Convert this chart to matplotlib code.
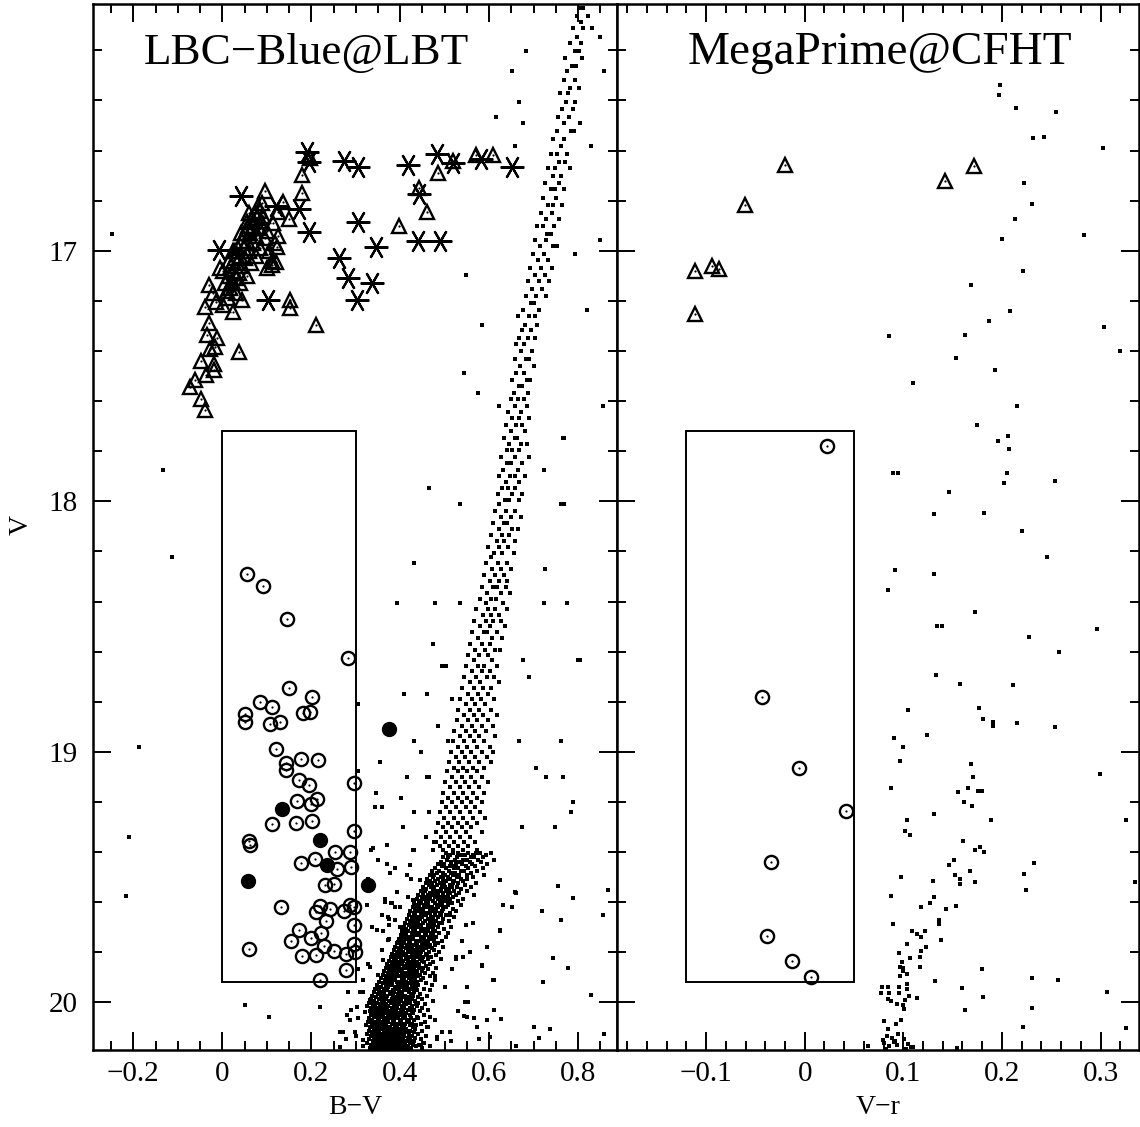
import matplotlib
matplotlib.use("Agg")
import matplotlib.pyplot as plt
from matplotlib.ticker import MultipleLocator
from matplotlib.patches import Rectangle

plt.rcParams['font.family'] = ['Liberation Serif', 'DejaVu Serif']

# ---------------- LBC-Blue@LBT (B-V, V) ----------------
# field stars, read row by row: (V, [B-V ...])
lbt_rows = [
    (16.032, [0.803, 0.811]), (16.061, [0.797, 0.822]), (16.088, [0.806]),
    (16.112, [0.789, 0.812, 0.831]), (16.146, [0.798, 0.85]), (16.171, [0.782, 0.807]),
    (16.203, [0.682, 0.794, 0.801]), (16.229, [0.771, 0.809]), (16.262, [0.786, 0.796]),
    (16.284, [0.651, 0.775, 0.859]), (16.318, [0.792, 0.768]), (16.349, [0.781, 0.801]),
    (16.372, [0.759, 0.778]), (16.408, [0.668, 0.772, 0.794]), (16.436, [0.763, 0.788]),
    (16.468, [0.755, 0.779, 0.615]), (16.49, [0.677, 0.804, 0.768]), (16.521, [0.752, 0.783, 0.791]),
    (16.553, [0.744, 0.769]), (16.581, [0.658, 0.761, 0.828]), (16.612, [0.738, 0.776, 0.752]),
    (16.644, [0.757, 0.771]), (16.668, [0.733, 0.749, 0.781]), (16.701, [0.744, 0.762]),
    (16.729, [0.726, 0.758]), (16.754, [0.739, 0.769, 0.748]), (16.788, [0.722, 0.751]),
    (16.816, [0.733, 0.744, 0.764]), (16.849, [0.716, 0.741]), (16.872, [0.728, 0.757]),
    (16.903, [0.708, 0.722, 0.745]), (16.934, [-0.247, 0.731, 0.739]), (16.958, [0.703, 0.727, 0.849]),
    (16.981, [0.715, 0.744, 0.752]), (17.012, [0.698, 0.724, 0.793]), (17.038, [0.709, 0.733]),
    (17.067, [0.692, 0.717, 0.741]), (17.096, [0.547, 0.703, 0.726]), (17.122, [0.688, 0.712, 0.735]),
    (17.153, [0.697, 0.719]), (17.181, [0.683, 0.706, 0.728]), (17.209, [0.694, 0.701]),
    (17.238, [0.677, 0.712, 0.82]), (17.262, [0.664, 0.689, 0.703]), (17.295, [0.583, 0.681, 0.708]),
    (17.318, [0.673, 0.694]), (17.347, [0.687, 0.702, 0.668]), (17.373, [0.661, 0.679]),
    (17.402, [0.672, 0.697]), (17.431, [0.657, 0.683, 0.689]), (17.458, [0.669, 0.701]),
    (17.488, [0.544, 0.661, 0.678]), (17.514, [0.652, 0.684, 0.691]), (17.541, [0.667, 0.673]),
    (17.566, [0.575, 0.656, 0.688]), (17.592, [0.648, 0.664, 0.679]),
    (17.621, [0.621, 0.659, 0.686, 0.855]), (17.643, [0.643, 0.671]), (17.668, [0.652, 0.667, 0.689]),
    (17.694, [0.637, 0.661, 0.674]), (17.719, [0.648, 0.681]),
    (17.746, [0.662, 0.633, 0.657, 0.766, 0.769]), (17.772, [0.644, 0.671, 0.684]),
    (17.797, [0.639, 0.652, 0.667]), (17.823, [0.627, 0.658, 0.689]), (17.849, [0.641, 0.648, 0.673]),
    (17.873, [-0.134, 0.632, 0.664, 0.724]), (17.898, [0.621, 0.646, 0.659, 0.681]),
    (17.922, [0.637, 0.668]), (17.947, [0.464, 0.628, 0.642, 0.657]), (17.971, [0.619, 0.651, 0.674]),
    (17.996, [0.636, 0.644, 0.667]), (18.012, [0.535, 0.623, 0.762, 0.769]),
    (18.037, [0.614, 0.638, 0.659]), (18.061, [0.627, 0.649, 0.671]), (18.085, [0.609, 0.633, 0.641]),
    (18.109, [0.621, 0.652, 0.664]), (18.134, [0.604, 0.628, 0.645]), (18.158, [0.617, 0.634, 0.659]),
    (18.183, [0.598, 0.623, 0.642]), (18.207, [0.611, 0.629, 0.655]), (18.223, [-0.112, 0.604]),
    (18.246, [0.431, 0.593, 0.619, 0.641]), (18.271, [0.607, 0.626, 0.648, 0.726]),
    (18.294, [0.589, 0.613, 0.634]), (18.318, [0.601, 0.622, 0.641]),
    (18.342, [0.583, 0.609, 0.618, 0.637]), (18.366, [0.596, 0.627, 0.646]),
    (18.39, [0.579, 0.604, 0.615]), (18.405, [0.393, 0.478, 0.535, 0.592, 0.631, 0.724, 0.775]),
    (18.428, [0.571, 0.598, 0.612, 0.641]), (18.452, [0.585, 0.604, 0.623]),
    (18.476, [0.566, 0.593, 0.609, 0.627]), (18.499, [0.579, 0.601, 0.636]),
    (18.522, [0.561, 0.588, 0.596, 0.618]), (18.546, [0.574, 0.607, 0.629]),
    (18.569, [0.473, 0.556, 0.583, 0.602]), (18.592, [0.569, 0.591, 0.613, 0.624]),
    (18.615, [0.552, 0.577, 0.598]), (18.634, [0.565, 0.606, 0.677, 0.799, 0.804]),
    (18.657, [0.494, 0.503, 0.548, 0.574, 0.589, 0.618]), (18.679, [0.561, 0.583, 0.602]),
    (18.701, [0.544, 0.571, 0.594, 0.611, 0.69]), (18.723, [0.557, 0.579, 0.621]),
    (18.745, [0.539, 0.566, 0.586, 0.603]), (18.768, [0.408, 0.46, 0.553, 0.574, 0.597]),
    (18.79, [0.517, 0.535, 0.561, 0.582, 0.611]), (18.81, [0.305, 0.548, 0.569, 0.591]),
    (18.832, [0.531, 0.557, 0.578, 0.604]), (18.853, [0.544, 0.565, 0.586, 0.617]),
    (18.874, [0.527, 0.552, 0.573, 0.597]), (18.895, [0.486, 0.539, 0.561, 0.583, 0.608]),
    (18.916, [0.522, 0.548, 0.569, 0.592]), (18.937, [0.534, 0.556, 0.577, 0.614]),
    (18.958, [0.431, 0.507, 0.518, 0.543, 0.565, 0.588, 0.666, 0.762]),
    (18.979, [-0.187, 0.529, 0.551, 0.572, 0.601]), (19.0, [0.446, 0.514, 0.538, 0.559, 0.583, 0.609]),
    (19.021, [0.525, 0.546, 0.567, 0.594]), (19.042, [0.355, 0.509, 0.533, 0.554, 0.578, 0.603]),
    (19.063, [0.52, 0.542, 0.563, 0.588, 0.706]), (19.078, [0.305, 0.505, 0.529, 0.551, 0.572]),
    (19.1, [0.415, 0.46, 0.465, 0.516, 0.538, 0.559, 0.583, 0.728, 0.766]),
    (19.121, [0.501, 0.525, 0.546, 0.568, 0.597]), (19.142, [0.512, 0.534, 0.555, 0.577]),
    (19.163, [0.346, 0.497, 0.521, 0.542, 0.564, 0.589]), (19.184, [0.402, 0.507, 0.53, 0.551, 0.573]),
    (19.202, [0.493, 0.516, 0.538, 0.559, 0.584, 0.788]),
    (19.221, [0.343, 0.36, 0.504, 0.526, 0.547, 0.568]),
    (19.242, [0.431, 0.464, 0.489, 0.512, 0.534, 0.556, 0.579, 0.784]),
    (19.263, [0.499, 0.521, 0.542, 0.563, 0.591]), (19.284, [0.485, 0.508, 0.529, 0.551, 0.572]),
    (19.3, [0.407, 0.496, 0.517, 0.538, 0.56, 0.673, 0.748]),
    (19.321, [0.481, 0.504, 0.525, 0.547, 0.583]), (19.339, [-0.21, 0.458, 0.492, 0.513, 0.534, 0.556]),
    (19.358, [0.481, 0.477, 0.5, 0.521, 0.543, 0.568]), (19.377, [0.489, 0.509, 0.53, 0.552]),
    (19.392, [0.335, 0.431, 0.474, 0.497, 0.518, 0.541, 0.573]),
    (19.404, [0.503, 0.519, 0.531, 0.552, 0.571, 0.579, 0.604]),
    (19.412, [0.511, 0.536, 0.545, 0.563, 0.592]),
    (19.421, [0.497, 0.508, 0.527, 0.558, 0.566, 0.587]),
    (19.43, [0.506, 0.523, 0.541, 0.549, 0.574, 0.611]),
    (19.439, [0.492, 0.514, 0.533, 0.556, 0.581]),
    (19.448, [0.371, 0.486, 0.499, 0.526, 0.538, 0.562, 0.596]),
    (19.456, [0.494, 0.511, 0.518, 0.547, 0.569]),
    (19.465, [0.389, 0.479, 0.503, 0.521, 0.529, 0.553, 0.585]),
    (19.474, [0.471, 0.487, 0.509, 0.536, 0.544, 0.572]),
    (19.482, [0.482, 0.496, 0.515, 0.524, 0.558]),
    (19.49, [0.466, 0.477, 0.501, 0.519, 0.533, 0.549, 0.588]),
    (19.498, [0.473, 0.492, 0.507, 0.528, 0.564]),
    (19.507, [0.328, 0.424, 0.461, 0.485, 0.496, 0.513, 0.537, 0.55]),
    (19.515, [0.468, 0.479, 0.503, 0.522, 0.541]),
    (19.523, [0.457, 0.472, 0.49, 0.499, 0.518, 0.531, 0.571]),
    (19.531, [0.464, 0.483, 0.495, 0.511, 0.545]),
    (19.54, [0.451, 0.469, 0.477, 0.501, 0.516, 0.527, 0.558]),
    (19.548, [0.459, 0.474, 0.492, 0.509, 0.536]),
    (19.556, [0.446, 0.455, 0.481, 0.488, 0.504, 0.521, 0.549]),
    (19.564, [0.451, 0.467, 0.476, 0.497, 0.513, 0.532]),
    (19.572, [0.441, 0.462, 0.471, 0.486, 0.508, 0.525, 0.566]),
    (19.58, [0.448, 0.457, 0.479, 0.494, 0.502, 0.519]),
    (19.588, [0.366, 0.437, 0.452, 0.468, 0.484, 0.491, 0.512, 0.541]),
    (19.596, [0.443, 0.459, 0.473, 0.498, 0.507, 0.529]),
    (19.604, [0.38, 0.432, 0.447, 0.463, 0.478, 0.489, 0.516]),
    (19.612, [0.325, 0.438, 0.454, 0.462, 0.483, 0.494, 0.508, 0.537]),
    (19.62, [0.389, 0.428, 0.443, 0.457, 0.471, 0.486, 0.503]),
    (19.628, [0.434, 0.449, 0.466, 0.476, 0.497, 0.518]),
    (19.636, [0.423, 0.439, 0.451, 0.472, 0.481, 0.495, 0.526]),
    (19.644, [0.43, 0.446, 0.461, 0.467, 0.489, 0.511]),
    (19.652, [0.36, 0.419, 0.434, 0.453, 0.459, 0.478, 0.492, 0.504, 0.513]),
    (19.66, [0.426, 0.441, 0.449, 0.469, 0.484, 0.521]),
    (19.668, [0.375, 0.415, 0.432, 0.444, 0.463, 0.474, 0.497]),
    (19.676, [0.421, 0.436, 0.456, 0.466, 0.481, 0.509]),
    (19.684, [0.411, 0.427, 0.441, 0.452, 0.471, 0.487, 0.493]),
    (19.692, [0.375, 0.419, 0.433, 0.447, 0.462, 0.477, 0.548]),
    (19.7, [0.337, 0.408, 0.424, 0.438, 0.443, 0.466, 0.484, 0.515]),
    (19.708, [0.414, 0.429, 0.451, 0.458, 0.473, 0.498]),
    (19.716, [0.404, 0.418, 0.433, 0.446, 0.462, 0.479]),
    (19.724, [0.411, 0.427, 0.439, 0.455, 0.469, 0.487, 0.508]),
    (19.732, [0.401, 0.414, 0.434, 0.442, 0.458, 0.474]),
    (19.74, [0.407, 0.422, 0.429, 0.451, 0.465, 0.481, 0.502]),
    (19.748, [0.375, 0.397, 0.412, 0.427, 0.446, 0.454, 0.471]),
    (19.756, [0.398, 0.539, 0.404, 0.419, 0.436, 0.441, 0.462, 0.477, 0.493]),
    (19.763, [0.393, 0.409, 0.423, 0.449, 0.457, 0.484]),
    (19.77, [0.401, 0.415, 0.431, 0.438, 0.453, 0.468, 0.479]),
    (19.777, [0.389, 0.404, 0.421, 0.444, 0.449, 0.463, 0.497]),
    (19.784, [0.397, 0.412, 0.426, 0.437, 0.458, 0.471]),
    (19.791, [0.386, 0.401, 0.417, 0.429, 0.442, 0.452, 0.476]),
    (19.798, [0.557, 0.393, 0.407, 0.422, 0.436, 0.447, 0.465, 0.488]),
    (19.805, [0.382, 0.398, 0.414, 0.427, 0.439, 0.458]),
    (19.812, [0.389, 0.404, 0.409, 0.431, 0.445, 0.461, 0.481]),
    (19.819, [0.526, 0.379, 0.394, 0.416, 0.423, 0.437, 0.452, 0.469]),
    (19.826, [0.385, 0.401, 0.412, 0.429, 0.444, 0.463, 0.492]),
    (19.833, [0.374, 0.391, 0.406, 0.418, 0.432, 0.448]),
    (19.84, [0.382, 0.396, 0.403, 0.425, 0.438, 0.454, 0.474]),
    (19.847, [0.328, 0.371, 0.387, 0.399, 0.416, 0.431, 0.442, 0.467]),
    (19.854, [0.378, 0.393, 0.409, 0.421, 0.436, 0.458]),
    (19.861, [0.368, 0.384, 0.398, 0.414, 0.427, 0.443, 0.451, 0.481]),
    (19.868, [0.304, 0.517, 0.375, 0.389, 0.405, 0.419, 0.432, 0.462]),
    (19.875, [0.364, 0.381, 0.396, 0.402, 0.424, 0.438, 0.449]),
    (19.882, [0.372, 0.386, 0.411, 0.417, 0.431, 0.456, 0.473]),
    (19.889, [0.349, 0.361, 0.378, 0.393, 0.405, 0.422, 0.437, 0.444]),
    (19.896, [0.478, 0.369, 0.383, 0.398, 0.414, 0.428, 0.439, 0.467]),
    (19.903, [0.357, 0.374, 0.389, 0.404, 0.419, 0.433, 0.452]),
    (19.91, [0.365, 0.379, 0.386, 0.409, 0.424, 0.446, 0.478]),
    (19.917, [0.353, 0.371, 0.392, 0.399, 0.414, 0.428, 0.438]),
    (19.924, [0.361, 0.376, 0.382, 0.404, 0.419, 0.433, 0.459]),
    (19.931, [0.348, 0.367, 0.379, 0.396, 0.411, 0.427, 0.441, 0.472]),
    (19.938, [0.5, 0.356, 0.372, 0.389, 0.401, 0.416, 0.435]),
    (19.945, [0.344, 0.363, 0.371, 0.393, 0.408, 0.422, 0.429, 0.453]),
    (19.952, [0.352, 0.368, 0.383, 0.398, 0.413, 0.438, 0.466]),
    (19.959, [0.316, 0.282, 0.341, 0.359, 0.376, 0.387, 0.405, 0.419, 0.432]),
    (19.966, [0.349, 0.364, 0.378, 0.394, 0.401, 0.424, 0.445]),
    (19.973, [0.337, 0.356, 0.371, 0.383, 0.398, 0.411, 0.428, 0.461]),
    (19.98, [0.346, 0.362, 0.369, 0.389, 0.405, 0.419, 0.439]),
    (19.987, [0.334, 0.352, 0.367, 0.381, 0.394, 0.412, 0.426, 0.448]),
    (19.994, [0.341, 0.358, 0.374, 0.386, 0.401, 0.417, 0.433, 0.474]),
    (20.001, [0.33, 0.347, 0.363, 0.379, 0.392, 0.408, 0.421, 0.441]),
    (20.008, [0.338, 0.354, 0.368, 0.385, 0.397, 0.414, 0.436, 0.455]),
    (20.015, [0.326, 0.343, 0.36, 0.372, 0.388, 0.404, 0.427, 0.438]),
    (20.022, [0.335, 0.351, 0.366, 0.381, 0.393, 0.409, 0.423, 0.449]),
    (20.029, [0.289, 0.342, 0.357, 0.371, 0.386, 0.401, 0.418, 0.432, 0.463]),
    (20.036, [0.531, 0.331, 0.348, 0.362, 0.377, 0.391, 0.406, 0.426, 0.444]),
    (20.043, [0.339, 0.355, 0.369, 0.383, 0.398, 0.413, 0.429]),
    (20.05, [0.281, 0.334, 0.347, 0.361, 0.376, 0.389, 0.404, 0.421, 0.453]),
    (20.057, [0.341, 0.356, 0.372, 0.381, 0.396, 0.411, 0.437, 0.468]),
    (20.064, [0.306, 0.566, 0.329, 0.349, 0.364, 0.378, 0.391, 0.407, 0.424, 0.441]),
    (20.071, [0.478, 0.337, 0.352, 0.368, 0.384, 0.399, 0.416, 0.431]),
    (20.078, [0.327, 0.344, 0.359, 0.373, 0.386, 0.402, 0.419, 0.456]),
    (20.085, [0.336, 0.351, 0.366, 0.381, 0.394, 0.411, 0.427, 0.446]),
    (20.092, [0.323, 0.342, 0.357, 0.369, 0.388, 0.405, 0.421, 0.436]),
    (20.099, [0.46, 0.333, 0.348, 0.362, 0.377, 0.392, 0.409, 0.428, 0.462]),
    (20.106, [0.34, 0.354, 0.371, 0.384, 0.399, 0.414, 0.433]),
    (20.113, [0.329, 0.346, 0.363, 0.378, 0.391, 0.406, 0.422, 0.449]),
    (20.12, [0.265, 0.494, 0.337, 0.352, 0.367, 0.383, 0.397, 0.412, 0.431]),
    (20.127, [0.325, 0.343, 0.359, 0.374, 0.389, 0.403, 0.419, 0.441]),
    (20.134, [0.3, 0.334, 0.349, 0.365, 0.38, 0.394, 0.408, 0.426, 0.457]),
    (20.141, [0.341, 0.356, 0.371, 0.386, 0.401, 0.417, 0.434]),
    (20.148, [0.482, 0.577, 0.278, 0.329, 0.347, 0.362, 0.377, 0.392, 0.407, 0.423, 0.446]),
    (20.155, [0.338, 0.353, 0.369, 0.384, 0.398, 0.414, 0.431]),
    (20.162, [0.326, 0.344, 0.359, 0.375, 0.389, 0.404, 0.421, 0.453]),
    (20.169, [0.335, 0.351, 0.366, 0.381, 0.396, 0.411, 0.428, 0.442]),
    (20.176, [0.317, 0.467, 0.342, 0.357, 0.373, 0.387, 0.402, 0.418, 0.435]),
    (20.183, [0.331, 0.348, 0.364, 0.379, 0.393, 0.409, 0.425, 0.449]),
    (20.19, [0.339, 0.355, 0.37, 0.385, 0.399, 0.416]),
]

# isolated field stars away from the sequences
lbt_scatter_bv = [0.66, 0.755, 0.789, 0.866, 0.718, 0.762, 0.855, 0.624, 0.744, 0.777, 0.722,
                  0.828, 0.61, 0.584, 0.553, 0.61, 0.626, 0.544, 0.701, 0.737, 0.858, 0.602,
                  0.713, 0.66, 0.515, 0.051, 0.106, 0.22, -0.217, 0.513, 0.526,
                  0.37, 0.339, 0.429, 0.35, 0.376, 0.422, 0.328, 0.415, 0.444, 0.392, 0.366,
                  0.381, 0.418, 0.429, 0.40, 0.373, 0.347, 0.388, 0.362, 0.40, 0.373, 0.395,
                  0.359, 0.332, 0.362, 0.317, 0.347, 0.309, 0.332, 0.302, 0.32, 0.287, 0.332,
                  0.298, 0.317, 0.272, 0.265,
                  0.564, 0.594, 0.624, 0.631, 0.651, 0.609, 0.583, 0.542, 0.55, 0.546, 0.55,
                  0.572, 0.594, 0.61, 0.512, 0.482, 0.658, 0.624]
lbt_scatter_v = [19.563, 19.536, 19.583, 19.55, 19.635, 19.67, 19.652, 19.716, 19.822, 19.862,
                 19.918, 19.969, 19.91, 19.854, 19.998, 20.031, 20.065, 20.055, 20.098, 20.107,
                 20.128, 20.138, 20.144, 20.175, 20.155, 20.011, 20.06, 20.02, 19.576, 19.652,
                 19.825,
                 19.37, 19.385, 19.39, 19.43, 19.485, 19.45, 19.55, 19.49, 19.51, 19.56, 19.60,
                 19.605, 19.58, 19.59, 19.62, 19.66, 19.71, 19.67, 19.715, 19.70, 19.75, 19.76,
                 19.79, 19.86, 19.83, 19.91, 19.94, 19.96, 19.99, 20.02, 20.04, 20.07, 20.08,
                 20.12, 20.15, 20.12, 20.18,
                 19.685, 19.78, 19.71, 19.61, 19.62, 19.91, 19.85, 19.82, 19.94, 20.0, 20.06,
                 20.10, 20.07, 20.03, 20.12, 20.14, 19.56, 19.51]

# horizontal branch: triangles
lbt_tri_bv = [0.198, 0.179, 0.179, 0.097, 0.136, 0.125, 0.149, 0.060, 0.056, 0.069, 0.051,
              0.113, 0.126, 0.122, 0.120, 0.112, 0.023, -0.005, -0.029, -0.020, -0.039, -0.015,
              0.001, 0.025, 0.045, 0.153, 0.152, 0.211, -0.030, -0.035, -0.011, -0.017, -0.028,
              0.038, -0.047, -0.019, -0.019, -0.036, -0.062, -0.073, -0.047, -0.038, 0.442,
              0.460, 0.484, 0.518, 0.571, 0.609, 0.398,
              0.010, 0.018, 0.005, 0.022, 0.015, 0.030, 0.025, 0.038, 0.020, 0.033, 0.045,
              0.028, 0.040, 0.052, 0.036, 0.048, 0.060, 0.044, 0.056, 0.068, 0.050, 0.063,
              0.075, 0.058, 0.070, 0.082, 0.066, 0.078, 0.088, 0.074, 0.085, 0.092, 0.080,
              0.090, 0.012, 0.040, 0.055, 0.065, 0.075, 0.085, 0.095, 0.100, 0.030, 0.002,
              0.015, 0.028, 0.042, 0.105, 0.112, 0.118, 0.100]
lbt_tri_v = [16.629, 16.698, 16.77, 16.762, 16.804, 16.844, 16.873, 16.851, 16.884, 16.884,
             16.931, 16.89, 16.94, 16.984, 17.044, 17.055, 17.0, 17.07, 17.137, 17.168, 17.224,
             17.204, 17.217, 17.244, 17.197, 17.197, 17.23, 17.297, 17.29, 17.337, 17.35, 17.386,
             17.394, 17.406, 17.439, 17.45, 17.476, 17.496, 17.516, 17.543, 17.592, 17.634,
             16.751, 16.847, 16.688, 16.641, 16.618, 16.618, 16.9,
             17.16, 17.15, 17.13, 17.12, 17.10, 17.11, 17.08, 17.09, 17.06, 17.05, 17.06,
             17.03, 17.02, 17.03, 16.99, 16.99, 17.00, 16.96, 16.96, 16.97, 16.93, 16.93,
             16.94, 16.90, 16.90, 16.91, 16.87, 16.87, 16.88, 16.85, 16.84, 16.86, 16.82,
             16.81, 17.19, 17.13, 17.10, 17.05, 17.02, 16.99, 16.95, 16.92, 17.17, 17.08,
             17.04, 17.00, 16.93, 17.00, 17.04, 16.97, 17.07]

# horizontal branch: asterisks
lbt_star_bv = [0.191, 0.196, 0.273, 0.305, 0.418, 0.482, 0.519, 0.581, 0.651, 0.041, 0.120,
               0.172, 0.196, 0.304, -0.007, 0.442, 0.440, 0.489, 0.346, 0.263, 0.282, 0.336,
               0.302, 0.103]
lbt_star_v = [16.605, 16.647, 16.642, 16.665, 16.656, 16.614, 16.651, 16.635, 16.665, 16.782,
              16.82, 16.835, 16.927, 16.884, 16.995, 16.774, 16.96, 16.96, 16.984, 17.028,
              17.107, 17.128, 17.195, 17.197]

# candidates inside the selection box: open circles
lbt_circ_bv = [0.056, 0.091, 0.146, 0.282, 0.150, 0.085, 0.112, 0.201, 0.051, 0.051, 0.107,
               0.130, 0.182, 0.197, 0.120, 0.144, 0.144, 0.178, 0.216, 0.296, 0.173, 0.195,
               0.169, 0.200, 0.214, 0.112, 0.166, 0.202, 0.296,
               0.059, 0.063, 0.253, 0.288, 0.177, 0.209, 0.258, 0.289, 0.230, 0.252, 0.133,
               0.220, 0.211, 0.242, 0.273, 0.286, 0.296, 0.233, 0.296, 0.172, 0.222, 0.199,
               0.155, 0.229, 0.297, 0.059, 0.179, 0.211, 0.251, 0.279, 0.299, 0.279, 0.219]
lbt_circ_v = [18.292, 18.337, 18.470, 18.627, 18.746, 18.800, 18.820, 18.783, 18.847, 18.882,
              18.887, 18.880, 18.844, 18.839, 18.989, 19.043, 19.072, 19.028, 19.033, 19.124,
              19.113, 19.132, 19.197, 19.209, 19.190, 19.287, 19.282, 19.274, 19.317,
              19.357, 19.373, 19.399, 19.399, 19.443, 19.426, 19.468, 19.459, 19.530, 19.526,
              19.619, 19.616, 19.639, 19.629, 19.635, 19.612, 19.621, 19.675, 19.692, 19.712,
              19.725, 19.741, 19.756, 19.776, 19.768, 19.788, 19.816, 19.812, 19.796, 19.805,
              19.798, 19.872, 19.909]

# filled circles
lbt_fill_bv = [0.134, 0.375, 0.220, 0.236, 0.058, 0.327]
lbt_fill_v = [19.229, 18.910, 19.350, 19.450, 19.516, 19.530]

# selection box (colour range, V range)
lbt_box_bv = [0.0, 0.30]
box_v = [17.72, 19.92]

# ---------------- MegaPrime@CFHT (V-r, V) ----------------
cfht_dot_vr = [0.198, 0.197, 0.214, 0.255, 0.232, 0.243, 0.303, 0.222, 0.231, 0.213, 0.283,
               0.200, 0.221, 0.169, 0.208, 0.187, 0.304, 0.085, 0.163, 0.320, 0.153, 0.193,
               0.110, 0.215, 0.175, 0.196, 0.206, 0.207, 0.090, 0.095, 0.205, 0.202, 0.254,
               0.146, 0.131, 0.182, 0.220, 0.246,
               0.092, 0.084, 0.131, 0.173, 0.134, 0.139, 0.227, 0.296, 0.258, 0.133, 0.157,
               0.211, 0.105, 0.177, 0.181, 0.191, 0.191, 0.215, 0.254, 0.124, 0.091, 0.100,
               0.097, 0.169, 0.171, 0.299, 0.088, 0.155, 0.166, 0.176, 0.180, 0.162, 0.170,
               0.131, 0.189, 0.104, 0.102, 0.107, 0.326, 0.161, 0.151, 0.173, 0.178, 0.182,
               0.146, 0.168, 0.152, 0.157, 0.157, 0.173, 0.222, 0.224, 0.233, 0.335, 0.098,
               0.130, 0.131, 0.127, 0.118, 0.088, 0.153, 0.143, 0.136, 0.136, 0.138, 0.090,
               0.109, 0.114, 0.118, 0.104, 0.122, 0.123, 0.118, 0.096, 0.117, 0.117, 0.107,
               0.099, 0.097, 0.097, 0.100, 0.100, 0.104, 0.104, 0.104, 0.096, 0.078, 0.077,
               0.084, 0.085, 0.084, 0.088, 0.096, 0.106, 0.102, 0.094, 0.114, 0.101, 0.100,
               0.098, 0.080, 0.093, 0.084, 0.079, 0.080, 0.083, 0.085, 0.089, 0.091, 0.094,
               0.095, 0.101, 0.103, 0.105, 0.108, 0.110, 0.092, 0.082, 0.132, 0.160, 0.163,
               0.180, 0.181, 0.230, 0.231, 0.221, 0.257, 0.307, 0.326, 0.154, 0.064]
cfht_dot_v = [16.337, 16.380, 16.430, 16.448, 16.548, 16.544, 16.590, 16.729, 16.814, 16.872,
              16.936, 16.954, 17.081, 17.135, 17.241, 17.281, 17.305, 17.342, 17.336, 17.400,
              17.426, 17.477, 17.526, 17.620, 17.697, 17.761, 17.741, 17.792, 17.888, 17.888,
              17.885, 17.927, 17.917, 17.962, 18.052, 18.048, 18.120, 18.223,
              18.275, 18.354, 18.290, 18.442, 18.496, 18.496, 18.540, 18.510, 18.601, 18.693,
              18.731, 18.735, 18.831, 18.825, 18.870, 18.880, 18.895, 18.885, 18.900, 18.933,
              18.944, 18.982, 19.037, 19.049, 19.101, 19.090, 19.146, 19.161, 19.145, 19.157,
              19.157, 19.199, 19.217, 19.247, 19.273, 19.273, 19.314, 19.333, 19.273, 19.356,
              19.430, 19.393, 19.380, 19.400, 19.450, 19.474, 19.493, 19.508, 19.528, 19.519,
              19.486, 19.550, 19.445, 19.520, 19.498, 19.516, 19.578, 19.602, 19.620, 19.575,
              19.617, 19.628, 19.673, 19.688, 19.752, 19.688, 19.717, 19.728, 19.740, 19.767,
              19.714, 19.777, 19.795, 19.804, 19.818, 19.857, 19.822, 19.837, 19.860, 19.893,
              19.864, 19.874, 19.886, 19.927, 19.946, 19.939, 19.937, 19.964, 19.937, 19.964,
              19.987, 19.994, 19.964, 19.976, 19.991, 20.006, 19.982, 20.027, 20.012, 20.072,
              20.073, 20.087, 20.106, 20.150, 20.162, 20.135, 20.175, 20.142, 20.160, 20.170,
              20.128, 20.148, 20.185, 20.165, 20.180, 20.178, 20.155, 20.188, 19.916, 19.942,
              20.031, 19.867, 19.979, 19.902, 20.024, 20.099, 19.912, 19.957, 20.103, 20.181,
              20.174]

cfht_tri_vr = [-0.0196, -0.061, 0.1425, 0.172, -0.111, -0.0936, -0.0864, -0.111]
cfht_tri_v = [16.659, 16.816, 16.723, 16.662, 17.080, 17.061, 17.071, 17.254]

cfht_circ_vr = [0.0225, -0.0429, -0.006, 0.0419, -0.034, -0.0385, -0.0128, 0.006]
cfht_circ_v = [17.778, 18.780, 19.064, 19.235, 19.441, 19.734, 19.833, 19.900]

cfht_box_vr = [-0.12, 0.05]

# ---------------------------------------------------------------
field_bv, field_v = [], []
for mag, cols in lbt_rows:
    field_bv += cols
    field_v += [mag] * len(cols)
field_bv += lbt_scatter_bv
field_v += lbt_scatter_v

W, H = 1140, 1127
fig = plt.figure(figsize=(W / 100, H / 100), dpi=100)
ax1 = fig.add_axes([93.3 / W, 77 / H, 524 / W, 1046 / H])
ax2 = fig.add_axes([617.3 / W, 77 / H, 521.7 / W, 1046 / H])

dot = dict(ls='none', marker='s', ms=2.2, mew=0, color='k')
sym = dict(ls='none', mfc='none', mec='k', mew=1.7)
cen = dict(ls='none', marker='o', ms=1.6, mew=0, color='k')


def draw_box(ax, xr):
    ax.add_patch(Rectangle((xr[0], box_v[0]), xr[1] - xr[0], box_v[1] - box_v[0],
                           fill=False, lw=1.4, ec='k', zorder=2))


def fmt(x, pos):
    if abs(x) < 1e-9:
        return '0'
    return f'{x:g}'.replace('-', '\u2212')


# left panel
ax1.plot(field_bv, field_v, **dot)
draw_box(ax1, lbt_box_bv)
ax1.plot(lbt_star_bv, lbt_star_v, ls='none', marker=(6, 2, 90), ms=17, mew=1.6, color='k')
ax1.plot(lbt_tri_bv, lbt_tri_v, marker='^', ms=9.5, **sym)
ax1.plot(lbt_tri_bv, lbt_tri_v, **cen)
ax1.plot(lbt_circ_bv, lbt_circ_v, marker='o', ms=9.5, **sym)
ax1.plot(lbt_circ_bv, lbt_circ_v, **cen)
ax1.plot(lbt_fill_bv, lbt_fill_v, ls='none', marker='o', ms=10, color='k')

# right panel
ax2.plot(cfht_dot_vr, cfht_dot_v, **dot)
draw_box(ax2, cfht_box_vr)
ax2.plot(cfht_tri_vr, cfht_tri_v, marker='^', ms=9.5, **sym)
ax2.plot(cfht_tri_vr, cfht_tri_v, **cen)
ax2.plot(cfht_circ_vr, cfht_circ_v, marker='o', ms=9.5, **sym)
ax2.plot(cfht_circ_vr, cfht_circ_v, **cen)

ax1.set_xlim(-0.29, 0.888)
ax2.set_xlim(-0.19, 0.339)
ax1.xaxis.set_major_locator(MultipleLocator(0.2))
ax1.xaxis.set_minor_locator(MultipleLocator(0.05))
ax2.xaxis.set_major_locator(MultipleLocator(0.1))
ax2.xaxis.set_minor_locator(MultipleLocator(0.02))

for ax in (ax1, ax2):
    ax.set_ylim(20.19, 16.015)
    ax.yaxis.set_major_locator(MultipleLocator(1))
    ax.yaxis.set_minor_locator(MultipleLocator(0.2))
    ax.tick_params(which='both', direction='in', top=True, right=True, width=1.4,
                   labelsize=21)
    ax.tick_params(which='major', length=13)
    ax.tick_params(which='minor', length=6.5)
    ax.tick_params(axis='x', pad=8)
    ax.tick_params(axis='y', pad=11)
    ax.xaxis.set_major_formatter(plt.FuncFormatter(fmt))
    for s in ax.spines.values():
        s.set_linewidth(1.8)

ax2.tick_params(axis='y', labelleft=False)

ax1.text(0.097, 0.9426, 'LBC\u2212Blue@LBT', transform=ax1.transAxes, fontsize=32.5,
         ha='left', va='baseline')
ax2.text(0.1355, 0.9426, 'MegaPrime@CFHT', transform=ax2.transAxes, fontsize=34,
         ha='left', va='baseline')

fig.text(355 / W, 1 - 1108 / H, 'B\u2212V', fontsize=20, ha='center', va='center')
fig.text(878 / W, 1 - 1108 / H, 'V\u2212r', fontsize=20, ha='center', va='center')
fig.text(21 / W, 1 - 525 / H, 'V', fontsize=20, ha='center', va='center', rotation=90)

fig.savefig('out.png', dpi=100)
